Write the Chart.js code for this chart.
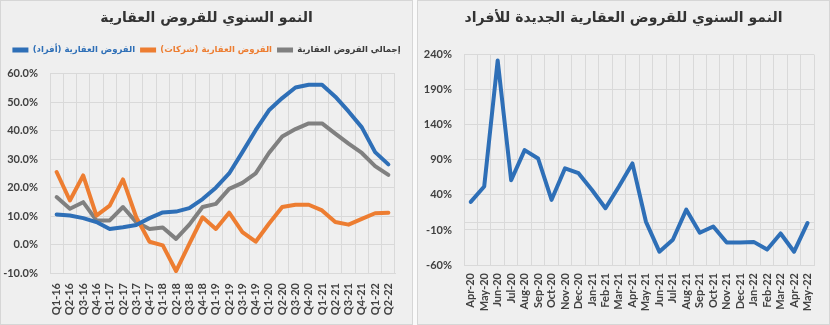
<!DOCTYPE html>
<html>
<head>
<meta charset="utf-8">
<script src="https://cdn.jsdelivr.net/npm/chart.js@4.4.1/dist/chart.umd.min.js"></script>
<style>
  body { margin: 0; background: #fafafa; width: 830px; height: 325px; position: relative; overflow: hidden; }
  .panel { position: absolute; top: 0; width: 411px; height: 323px; background: #efefef; border: 1px solid #d6d6d6; }
  #p1 { left: 0; }
  #p2 { left: 417px; }
  canvas { display: block; }
</style>
</head>
<body>
<div class="panel" id="p1"><canvas id="loansChart" width="411" height="323"></canvas></div>
<div class="panel" id="p2"><canvas id="newLoansChart" width="411" height="323"></canvas></div>
<script>
// quarterly growth of real estate loans (%)
var quarters = ['Q1-16','Q2-16','Q3-16','Q4-16','Q1-17','Q2-17','Q3-17','Q4-17','Q1-18','Q2-18','Q3-18','Q4-18','Q1-19',
                'Q2-19','Q3-19','Q4-19','Q1-20','Q2-20','Q3-20','Q4-20','Q1-21','Q2-21','Q3-21','Q4-21','Q1-22','Q2-22'];
var individuals = [10.6, 10.2, 9.3, 7.9, 5.5, 6.1, 6.9, 9.3, 11.3, 11.6, 12.8, 16.0, 20.0,
                   25.0, 32.5, 40.2, 47.2, 51.5, 55.2, 56.2, 56.2, 52.0, 46.8, 41.2, 32.5, 28.2];
var companies = [25.5, 15.5, 24.3, 10.2, 13.7, 22.9, 9.6, 1.0, -0.3, -9.3, 0.2, 9.6, 5.5,
                 11.2, 4.4, 1.0, 7.3, 13.2, 14.0, 14.0, 12.0, 7.9, 7.0, 9.0, 11.0, 11.2];
var totalLoans = [16.7, 12.6, 14.9, 8.5, 8.5, 13.2, 7.9, 5.5, 6.0, 2.0, 7.0, 13.2, 14.3,
                  19.6, 21.7, 25.0, 32.2, 38.0, 40.6, 42.6, 42.6, 39.0, 35.5, 32.2, 27.6, 24.5];

// monthly growth of new loans to individuals (%)
var months = ['Apr-20','May-20','Jun-20','Jul-20','Aug-20','Sep-20','Oct-20','Nov-20','Dec-20','Jan-21','Feb-21','Mar-21','Apr-21',
              'May-21','Jun-21','Jul-21','Aug-21','Sep-21','Oct-21','Nov-21','Dec-21','Jan-22','Feb-22','Mar-22','Apr-22','May-22'];
var newLoans = [30, 52, 232, 61, 104, 92, 33, 78, 71, 47, 21, 52, 85,
                2, -41, -24, 19, -14, -5, -28, -28, -27, -38, -15, -41, 0];

var title1 = 'النمو السنوي للقروض العقارية';
var title2 = 'النمو السنوي للقروض العقارية الجديدة للأفراد';
// trailing RLM keeps the closing bracket on the right side of the arabic run
var seriesNames = ['القروض العقارية (أفراد)\u200F', 'القروض العقارية (شركات)\u200F', 'إجمالي القروض العقارية'];

var blue = '#2e6fb7';
var orange = '#ed7d31';
var grey = '#808080';
var legendTextColors = [blue, orange, '#3a3a3a'];
var gridColor = '#d9d9d9';
var tickColor = '#404040';
var arabicFont = "'DejaVu Sans', sans-serif";
var tickFont = { family: 'Lato', size: 11, weight: 'bold' };

Chart.defaults.animation = false;
Chart.defaults.responsive = false;

function lineSet(label, data, color) {
  return {
    label: label,
    data: data,
    borderColor: color,
    backgroundColor: color,
    borderWidth: 4,
    borderCapStyle: 'round',
    borderJoinStyle: 'round',
    pointRadius: 0,
    tension: 0
  };
}

function xAxis(h, pad) {
  return {
    offset: true,
    grid: { offset: true, color: gridColor, drawTicks: false },
    border: { color: gridColor },
    ticks: { autoSkip: false, minRotation: 90, maxRotation: 90, padding: pad, color: tickColor, font: tickFont },
    afterFit: function(s) { s.height = h; }
  };
}

// empty axis on the right, only used as a margin so the legend keeps the full width
function rightMargin(w) {
  return {
    position: 'right',
    grid: { display: false },
    border: { display: false },
    ticks: { display: false },
    afterFit: function(s) { s.width = w; }
  };
}

new Chart(document.getElementById('loansChart'), {
  type: 'line',
  data: {
    labels: quarters,
    datasets: [
      lineSet(seriesNames[0], individuals, blue),
      lineSet(seriesNames[1], companies, orange),
      lineSet(seriesNames[2], totalLoans, grey)
    ]
  },
  options: {
    layout: { padding: 0 },
    plugins: {
      title: {
        display: true, text: title1, color: '#333',
        font: { family: arabicFont, size: 14, weight: 'bold' },
        padding: { top: 9, bottom: 14 }
      },
      legend: {
        position: 'top',
        labels: {
          usePointStyle: true,
          pointStyle: 'line',
          pointStyleWidth: 16,
          padding: 5,
          font: { family: arabicFont, size: 8.5, weight: 'bold' },
          generateLabels: function(chart) {
            var items = Chart.defaults.plugins.legend.labels.generateLabels(chart);
            items.forEach(function(it, i) {
              it.fontColor = legendTextColors[i];
              it.lineWidth = 5;
            });
            return items;
          }
        }
      },
      // empty line that keeps some room between legend and plot
      subtitle: { display: true, text: '', weight: 500, padding: 0, font: { size: 8 } },
      tooltip: { enabled: false }
    },
    scales: {
      x: xAxis(51, 10),
      y: {
        min: -10, max: 60,
        grid: { color: gridColor, drawTicks: false },
        border: { display: false },
        ticks: {
          stepSize: 10, padding: 12, color: tickColor, font: tickFont,
          callback: function(v) { return v.toFixed(1) + '%'; }
        },
        afterFit: function(s) { s.width = 49; }
      },
      margin: rightMargin(17)
    }
  }
});

new Chart(document.getElementById('newLoansChart'), {
  type: 'line',
  data: {
    labels: months,
    datasets: [ lineSet(title2, newLoans, blue) ]
  },
  options: {
    layout: { padding: 0 },
    plugins: {
      title: {
        display: true, text: title2, color: '#333',
        font: { family: arabicFont, size: 14, weight: 'bold' },
        padding: { top: 9, bottom: 28 }
      },
      legend: { display: false },
      tooltip: { enabled: false }
    },
    scales: {
      x: xAxis(59, 8),
      y: {
        min: -60, max: 240,
        grid: { color: gridColor, drawTicks: false },
        border: { display: false },
        ticks: {
          stepSize: 50, autoSkip: false, padding: 12, color: tickColor, font: tickFont,
          // the 0% line is drawn but not labelled
          callback: function(v) { return v === 0 ? '' : v + '%'; }
        },
        afterBuildTicks: function(s) {
          s.ticks.push({ value: 0 });
          s.ticks.sort(function(a, b) { return a.value - b.value; });
        },
        afterFit: function(s) { s.width = 46; }
      },
      margin: rightMargin(12)
    }
  }
});
</script>
</body>
</html>
